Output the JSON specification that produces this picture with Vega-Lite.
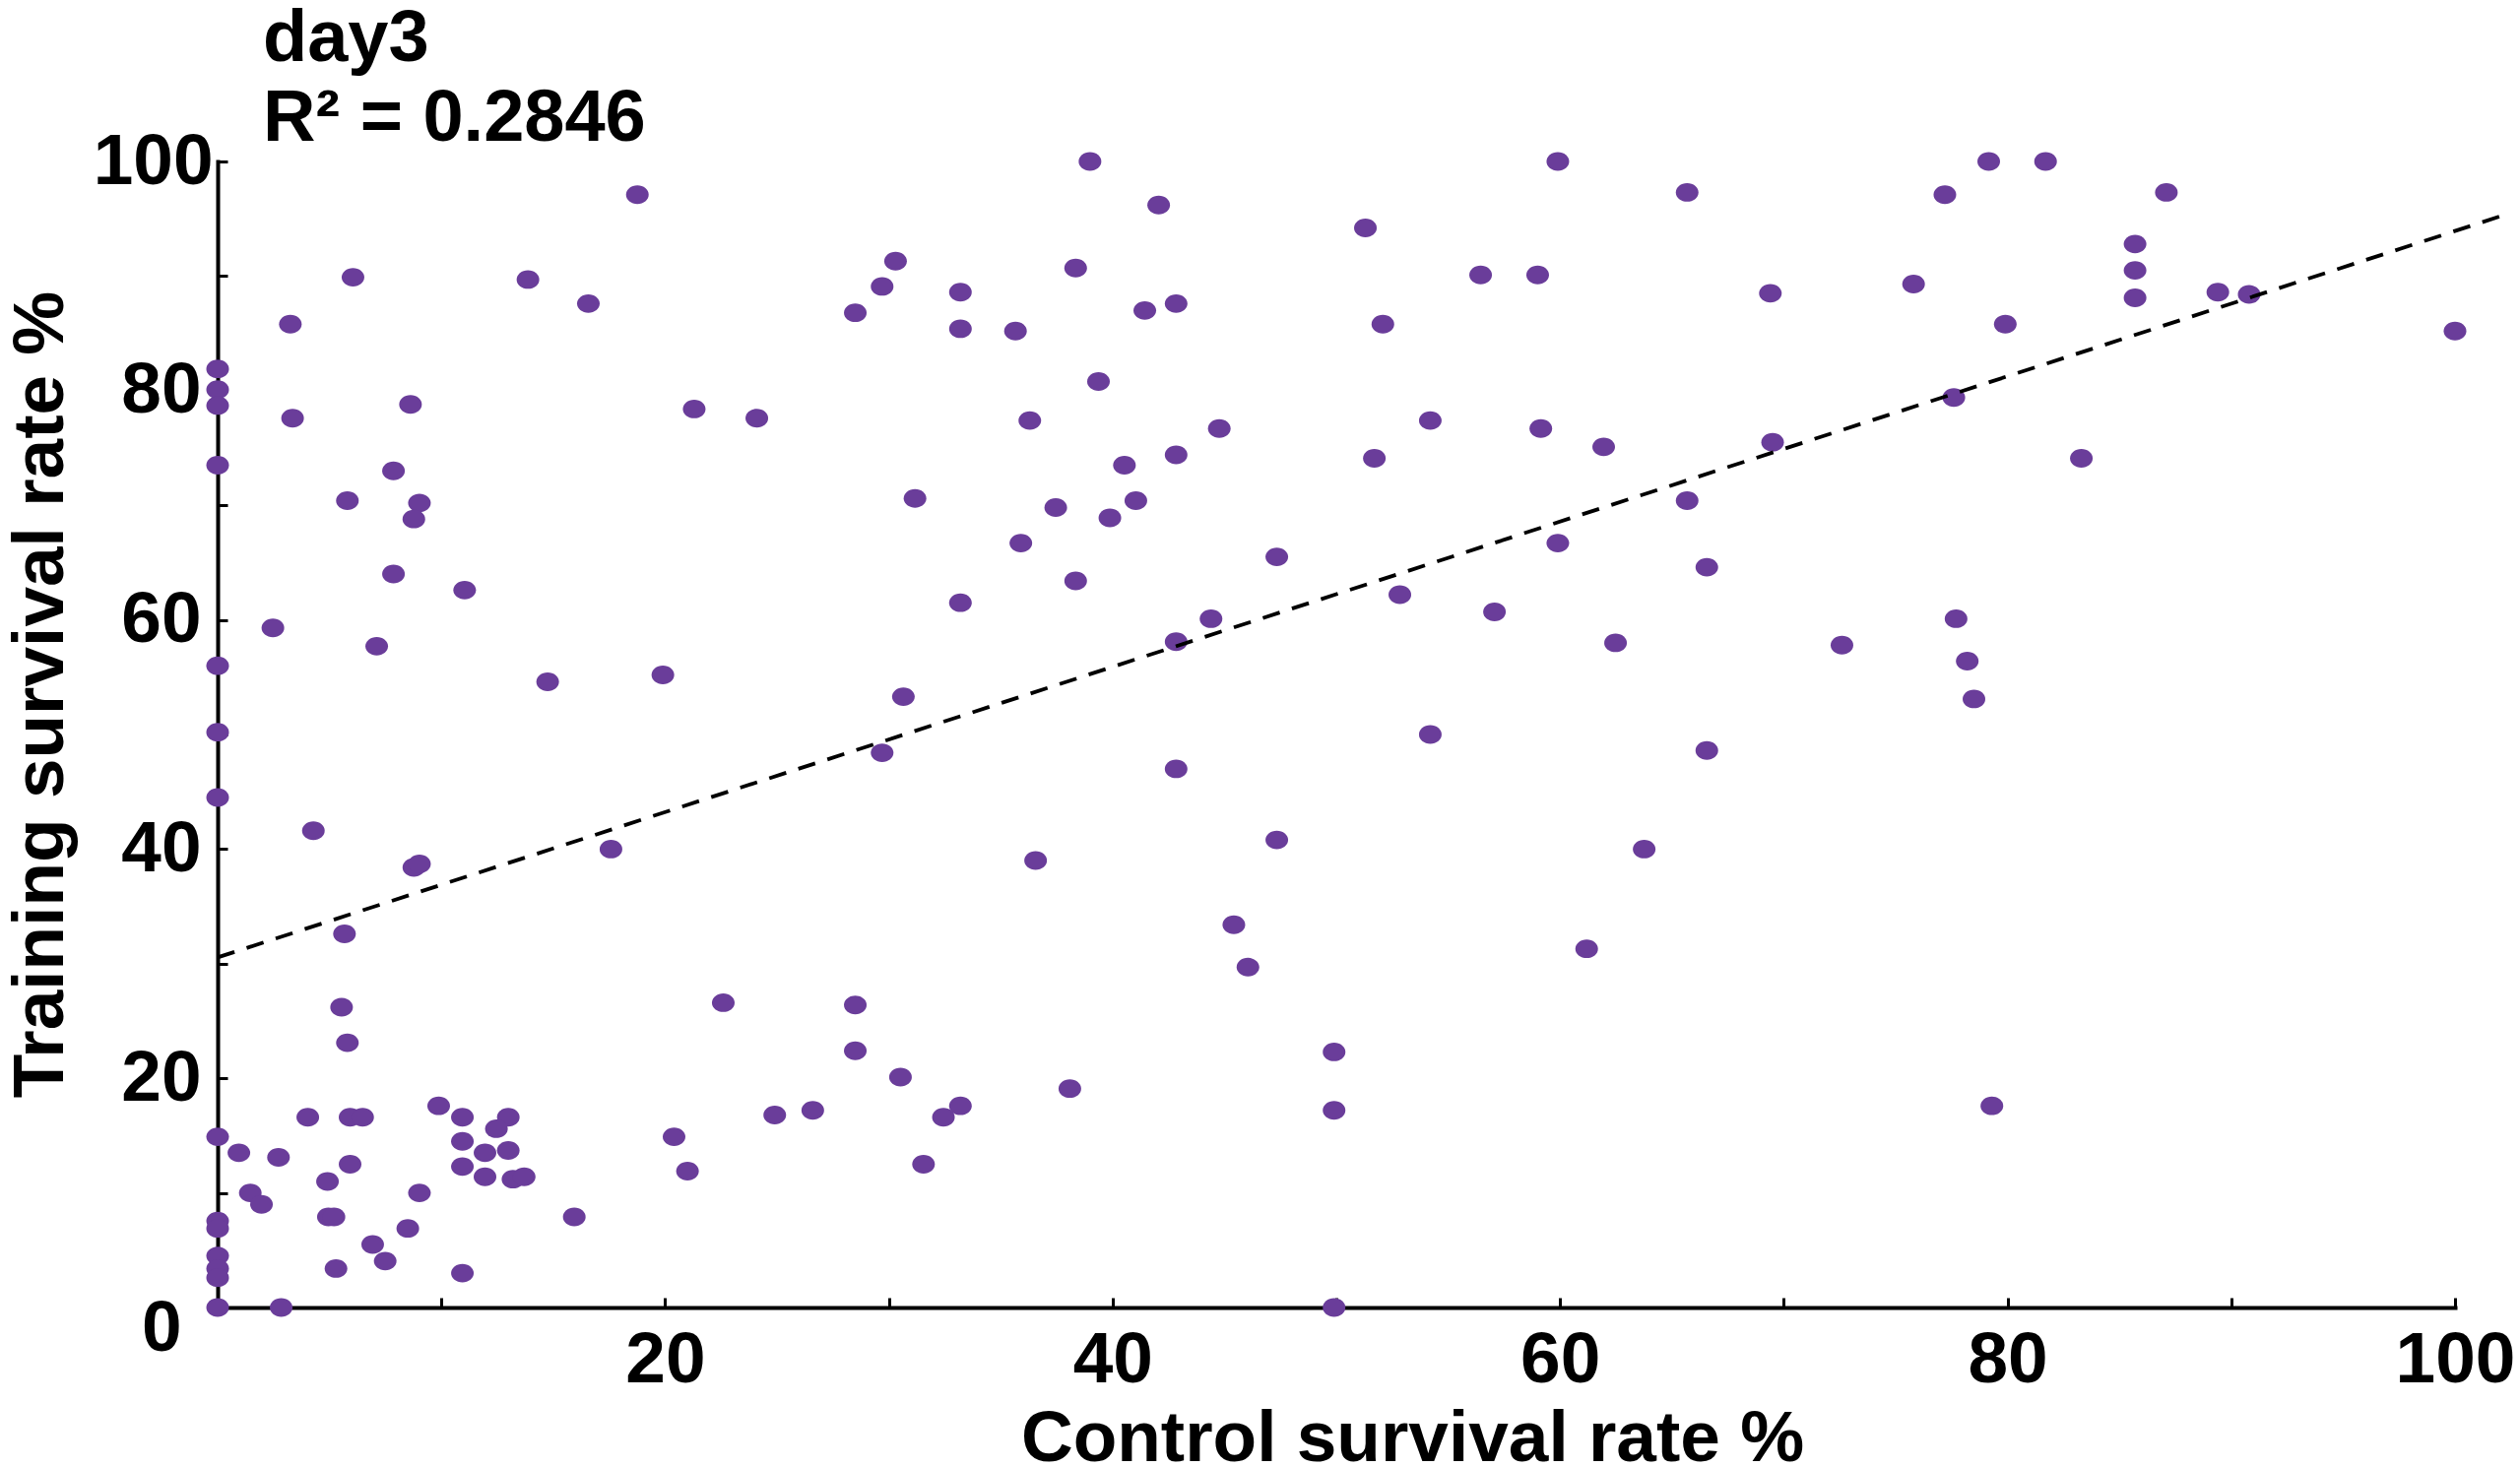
{
  "$schema": "https://vega.github.io/schema/vega-lite/v6.json",
  "autosize": {"type": "none"},
  "padding": {"left": 221, "top": 164, "right": 66, "bottom": 162},
  "width": 2272,
  "height": 1164,
  "background": "white",
  "title": {
    "text": ["day3", "R² = 0.2846"],
    "anchor": "start",
    "frame": "group",
    "orient": "top",
    "font": "Liberation Sans",
    "fontSize": 74,
    "fontWeight": "bold",
    "color": "black",
    "lineHeight": 81,
    "baseline": "alphabetic",
    "dx": 46,
    "dy": 89,
    "offset": 0
  },
  "datasets": {
    "points": [
      {"control": 18.76, "training": 97.1}, {"control": 6.05, "training": 89.9}, {"control": 13.87, "training": 89.7},
      {"control": 16.57, "training": 87.6}, {"control": 28.5, "training": 86.8}, {"control": 29.7, "training": 89.1},
      {"control": 30.3, "training": 91.3}, {"control": 3.25, "training": 85.8}, {"control": 0, "training": 81.9},
      {"control": 0, "training": 80.1}, {"control": 0, "training": 78.7}, {"control": 3.35, "training": 77.6},
      {"control": 8.62, "training": 78.8}, {"control": 21.3, "training": 78.4}, {"control": 24.1, "training": 77.6},
      {"control": 0, "training": 73.5}, {"control": 7.86, "training": 73.0}, {"control": 5.8, "training": 70.4},
      {"control": 9.02, "training": 70.2}, {"control": 8.77, "training": 68.8}, {"control": 7.86, "training": 64.0},
      {"control": 11.04, "training": 62.6}, {"control": 2.47, "training": 59.3}, {"control": 7.11, "training": 57.7},
      {"control": 0, "training": 56.0}, {"control": 14.75, "training": 54.6}, {"control": 19.9, "training": 55.2},
      {"control": 0, "training": 50.2},
      {"control": 0, "training": 44.5}, {"control": 4.28, "training": 41.6}, {"control": 8.77, "training": 38.4},
      {"control": 9.02, "training": 38.7}, {"control": 17.58, "training": 40.0}, {"control": 29.7, "training": 48.4},
      {"control": 5.67, "training": 32.6}, {"control": 5.54, "training": 26.2}, {"control": 5.8, "training": 23.1},
      {"control": 22.6, "training": 26.6}, {"control": 28.5, "training": 26.4}, {"control": 28.5, "training": 22.4},
      {"control": 4.03, "training": 16.6}, {"control": 5.92, "training": 16.6}, {"control": 6.48, "training": 16.6},
      {"control": 9.88, "training": 17.6}, {"control": 10.94, "training": 16.6}, {"control": 12.99, "training": 16.6},
      {"control": 12.46, "training": 15.6}, {"control": 10.94, "training": 14.5}, {"control": 11.95, "training": 13.5},
      {"control": 12.99, "training": 13.7}, {"control": 10.94, "training": 12.3}, {"control": 11.95, "training": 11.4},
      {"control": 13.2, "training": 11.2}, {"control": 13.7, "training": 11.4}, {"control": 0, "training": 14.9},
      {"control": 0.95, "training": 13.5}, {"control": 2.72, "training": 13.1}, {"control": 5.92, "training": 12.5},
      {"control": 4.91, "training": 11.0}, {"control": 1.46, "training": 10.0}, {"control": 1.96, "training": 9.0},
      {"control": 9.02, "training": 10.0}, {"control": 4.95, "training": 7.9}, {"control": 5.2, "training": 7.9},
      {"control": 15.94, "training": 7.9}, {"control": 0, "training": 7.55}, {"control": 0, "training": 6.9},
      {"control": 8.5, "training": 6.9}, {"control": 6.93, "training": 5.5}, {"control": 7.49, "training": 4.05},
      {"control": 0, "training": 4.5}, {"control": 0, "training": 3.4}, {"control": 0, "training": 2.6},
      {"control": 5.29, "training": 3.4}, {"control": 10.94, "training": 3.0}, {"control": 0, "training": 0},
      {"control": 2.84, "training": 0}, {"control": 20.4, "training": 14.9}, {"control": 21.0, "training": 11.9},
      {"control": 24.9, "training": 16.8}, {"control": 26.6, "training": 17.2},
      {"control": 38.99, "training": 100}, {"control": 42.06, "training": 96.2}, {"control": 51.3, "training": 94.2},
      {"control": 33.2, "training": 88.6}, {"control": 38.35, "training": 90.7}, {"control": 41.44, "training": 87.0},
      {"control": 42.84, "training": 87.6}, {"control": 52.08, "training": 85.8}, {"control": 33.2, "training": 85.4},
      {"control": 35.66, "training": 85.2}, {"control": 39.37, "training": 80.8}, {"control": 36.3, "training": 77.4},
      {"control": 44.77, "training": 76.7}, {"control": 54.2, "training": 77.4}, {"control": 42.84, "training": 74.4},
      {"control": 40.53, "training": 73.5}, {"control": 51.7, "training": 74.1}, {"control": 31.17, "training": 70.6},
      {"control": 37.46, "training": 69.8}, {"control": 41.04, "training": 70.4}, {"control": 39.88, "training": 68.9},
      {"control": 35.9, "training": 66.7}, {"control": 38.35, "training": 63.4}, {"control": 33.2, "training": 61.5},
      {"control": 47.34, "training": 65.5}, {"control": 44.4, "training": 60.1}, {"control": 42.84, "training": 58.1},
      {"control": 52.84, "training": 62.2}, {"control": 30.65, "training": 53.3},
      {"control": 42.84, "training": 47.0}, {"control": 54.2, "training": 50.0}, {"control": 36.56, "training": 39.0},
      {"control": 47.34, "training": 40.8}, {"control": 45.42, "training": 33.4}, {"control": 46.05, "training": 29.7},
      {"control": 30.52, "training": 20.1}, {"control": 33.2, "training": 17.6}, {"control": 32.44, "training": 16.6},
      {"control": 31.55, "training": 12.5}, {"control": 38.09, "training": 19.1}, {"control": 49.9, "training": 22.3},
      {"control": 49.9, "training": 17.2}, {"control": 49.9, "training": 0},
      {"control": 59.9, "training": 100}, {"control": 65.68, "training": 97.3}, {"control": 77.2, "training": 97.1},
      {"control": 56.45, "training": 90.1}, {"control": 59.0, "training": 90.1}, {"control": 69.4, "training": 88.5},
      {"control": 75.8, "training": 89.3}, {"control": 59.14, "training": 76.7}, {"control": 61.95, "training": 75.1},
      {"control": 69.5, "training": 75.5}, {"control": 77.6, "training": 79.4}, {"control": 65.68, "training": 70.4},
      {"control": 59.9, "training": 66.7}, {"control": 66.56, "training": 64.6}, {"control": 57.07, "training": 60.7},
      {"control": 62.48, "training": 58.0}, {"control": 72.6, "training": 57.8}, {"control": 77.7, "training": 60.1},
      {"control": 78.2, "training": 56.4}, {"control": 78.5, "training": 53.1},
      {"control": 66.56, "training": 48.6}, {"control": 63.76, "training": 40.0}, {"control": 61.19, "training": 31.3},
      {"control": 79.16, "training": 100}, {"control": 81.7, "training": 100}, {"control": 87.1, "training": 97.3},
      {"control": 85.7, "training": 92.8}, {"control": 85.7, "training": 90.5}, {"control": 85.7, "training": 88.1},
      {"control": 89.4, "training": 88.6}, {"control": 90.8, "training": 88.4}, {"control": 79.9, "training": 85.8},
      {"control": 100, "training": 85.2}, {"control": 83.3, "training": 74.1}, {"control": 79.3, "training": 17.6}
    ],
    "fit": [
      {"control": 0, "training": 30.55},
      {"control": 102, "training": 95.2}
    ]
  },
  "encoding": {
    "x": {
      "field": "control", "type": "quantitative",
      "scale": {"domain": [0, 100], "nice": false, "zero": false},
      "axis": {
        "title": "Control survival rate %",
        "values": [0, 10, 20, 30, 40, 50, 60, 70, 80, 90, 100],
        "labelExpr": "datum.value > 0 && datum.value % 20 === 0 ? datum.label : ''",
        "grid": false,
        "domainColor": "black", "domainWidth": 4, "domainCap": "square",
        "tickColor": "black", "tickWidth": 3, "tickSize": -10,
        "labelPadding": 27,
        "labelFont": "Liberation Sans", "labelFontSize": 73, "labelFontWeight": "bold", "labelColor": "black",
        "labelOverlap": false, "labelFlush": false,
        "titleFont": "Liberation Sans", "titleFontSize": 73, "titleFontWeight": "bold", "titleColor": "black",
        "titleX": 1213, "titleY": 155, "titleAlign": "center", "titleBaseline": "alphabetic"
      }
    },
    "y": {
      "field": "training", "type": "quantitative",
      "scale": {"domain": [0, 100], "nice": false, "zero": false},
      "axis": {
        "title": "Training survival rate %",
        "values": [0, 10, 20, 30, 40, 50, 60, 70, 80, 90, 100],
        "labelExpr": "datum.value % 20 === 0 ? datum.label : ''",
        "grid": false,
        "domainColor": "black", "domainWidth": 4, "domainCap": "square",
        "tickColor": "black", "tickWidth": 3, "tickSize": -10,
        "labelPadding": {"condition": [{"test": "datum.value === 0", "value": 47}, {"test": "datum.value === 100", "value": 15}], "value": 27},
        "labelOffset": {"condition": {"test": "datum.value === 0", "value": 21}, "value": 0},
        "labelFont": "Liberation Sans", "labelFontSize": 73, "labelFontWeight": "bold", "labelColor": "black",
        "labelOverlap": false, "labelFlush": false,
        "titleFont": "Liberation Sans", "titleFontSize": 73, "titleFontWeight": "bold", "titleColor": "black",
        "titleX": -158, "titleY": 541, "titleAngle": -90, "titleAlign": "center", "titleBaseline": "alphabetic"
      }
    }
  },
  "layer": [
    {
      "data": {"name": "points"},
      "mark": {
        "type": "point",
        "shape": "M 1 0 C 1 0.453 0.5523 0.82 0 0.82 C -0.5523 0.82 -1 0.453 -1 0 C -1 -0.453 -0.5523 -0.82 0 -0.82 C 0.5523 -0.82 1 -0.453 1 0 Z",
        "filled": true,
        "size": 529,
        "color": "#6a3d9a",
        "opacity": 1,
        "strokeWidth": 0
      }
    },
    {
      "data": {"name": "fit"},
      "mark": {"type": "line", "color": "black", "strokeWidth": 3.8, "strokeDash": [18, 13], "clip": false}
    }
  ],
  "config": {
    "font": "Liberation Sans",
    "view": {"stroke": null}
  }
}
